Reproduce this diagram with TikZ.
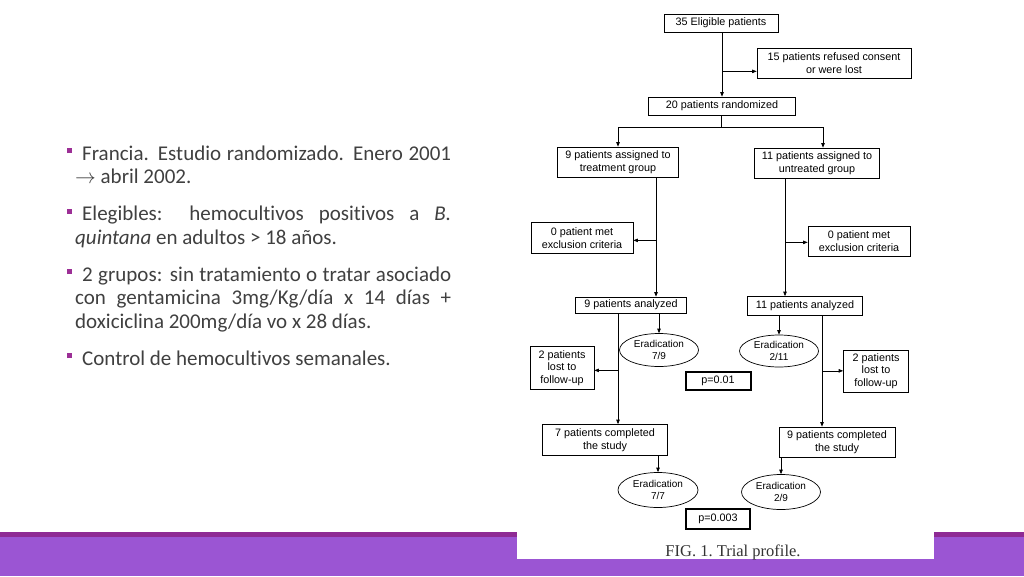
\documentclass[tikz,border=0pt]{standalone}
\usepackage{fontspec}
\setmainfont{Carlito}[Ligatures=NoCommon]
\newfontfamily\flowfont{Liberation Sans}
\newfontfamily\capfont{Liberation Serif}
\usetikzlibrary{arrows.meta,shapes.geometric,calc}
\definecolor{bandlight}{HTML}{9B55D3}
\definecolor{banddark}{HTML}{8E2A94}
\definecolor{bulletc}{HTML}{9C2F96}
\definecolor{textgrey}{HTML}{404040}
\newcommand{\bul}{\hspace*{-8pt}\textcolor{bulletc}{\rule[7pt]{5pt}{5pt}}\hspace{10pt}}
\begin{document}
\begin{tikzpicture}[x=1pt,y=-1pt,
  flow/.style={font=\flowfont\fontsize{10.8}{12.5}\selectfont},
  box/.style={flow, draw=black, line width=0.7pt, fill=white, rectangle, inner sep=0pt, align=center},
  ebox/.style={ellipse, draw=black, line width=0.7pt, fill=white, inner sep=0pt, align=center, font=\flowfont\fontsize{10}{11.5}\selectfont},
  pbox/.style={box, line width=2pt},
  conn/.style={draw=black, line width=0.7pt},
  arr/.style={conn, -{Triangle[length=4.5pt,width=3.5pt]}}
]
\useasboundingbox (0,0) rectangle (1024,576);
\fill[white] (0,0) rectangle (1024,576);
\fill[bandlight] (0,532) rectangle (1024,576);
\fill[banddark] (0,532) rectangle (1024,537);
\fill[white] (517,0) rectangle (934,559);

% left text
\node[anchor=base west, inner sep=0pt, text=textgrey, font=\fontsize{21}{23.5}\selectfont] (txt) at (75,160)
{\parbox[t]{376pt}{\parindent=0pt\parskip=13.5pt
\bul Francia. Estudio randomizado. Enero 2001\linebreak $\rightarrow$ abril 2002.\par
\bul Elegibles: hemocultivos positivos a \textit{B.}\linebreak \textit{quintana} en adultos > 18 años.\par
\bul 2 grupos: sin tratamiento o tratar asociado\linebreak con gentamicina 3mg/Kg/día x 14 días +\linebreak doxiciclina 200mg/día vo x 28 días.\par
\bul Control de hemocultivos semanales.}};

% flowchart nodes
\node[box, minimum width=114pt, minimum height=18pt] (elig) at (721,23) {35 Eligible patients};
\node[box, minimum width=154pt, minimum height=30pt] (refused) at (834,63) {15 patients refused consent\\or were lost};
\node[box, minimum width=147pt, minimum height=18pt] (rand) at (722,106) {20 patients randomized};
\node[box, minimum width=121pt, minimum height=30pt] (treat) at (618,162) {9 patients assigned to\\treatment group};
\node[box, minimum width=125pt, minimum height=30pt] (untreat) at (817,163) {11 patients assigned to\\untreated group};
\node[box, minimum width=102pt, minimum height=31pt] (excl1) at (582,238) {0 patient met\\exclusion criteria};
\node[box, minimum width=102pt, minimum height=30pt] (excl2) at (859,241) {0 patient met\\exclusion criteria};
\node[box, minimum width=111pt, minimum height=16pt] (an1) at (631,305) {9 patients analyzed};
\node[box, minimum width=115pt, minimum height=19pt] (an2) at (805,306) {11 patients analyzed};
\node[ebox, minimum width=79pt, minimum height=33pt] (er1) at (659,350) {Eradication\\7/9};
\node[ebox, minimum width=79pt, minimum height=32pt] (er2) at (779,351) {Eradication\\2/11};
\node[box, minimum width=64pt, minimum height=43pt] (lost1) at (562,368) {2 patients\\lost to\\follow-up};
\node[box, minimum width=65pt, minimum height=42pt] (lost2) at (876,371) {2 patients\\lost to\\follow-up};
\node[pbox, minimum width=65pt, minimum height=18pt] (p1) at (718,381) {p=0.01};
\node[box, minimum width=125pt, minimum height=31pt] (comp1) at (605,440) {7 patients completed\\the study};
\node[box, minimum width=116pt, minimum height=30pt] (comp2) at (837,442) {9 patients completed\\the study};
\node[ebox, minimum width=80pt, minimum height=35pt] (er3) at (658,490) {Eradication\\7/7};
\node[ebox, minimum width=79pt, minimum height=35pt] (er4) at (781,492) {Eradication\\2/9};
\node[pbox, minimum width=64pt, minimum height=20pt] (p2) at (718,519) {p=0.003};

\node[font=\capfont\fontsize{16.5}{18}\selectfont, anchor=base, inner sep=0pt, text=black!80] (cap) at (733,556) {FIG.\ 1.\ Trial profile.};

% connectors
\coordinate (b1) at ($(elig.south)+(1,39)$);
\draw[arr] (elig.south -| b1) -- (rand.north -| b1);
\draw[arr] (b1) -- (b1 -| refused.west);
\coordinate (split) at ($(rand.south)+(-1,12)$);
\draw[conn] (rand.south -| split) -- (split);
\draw[arr] (split) -| (treat.north);
\draw[arr] (split) -| ($(untreat.north)+(6,0)$);

\coordinate (t1) at ($(treat.south)+(38,0)$);
\draw[arr] (t1) -- (t1 |- an1.north);
\coordinate (b2) at ($(t1)+(0,63)$);
\draw[arr] (b2) -- (b2 -| excl1.east);
\coordinate (t2) at ($(untreat.south)+(-32,0)$);
\draw[arr] (t2) -- (t2 |- an2.north);
\coordinate (b3) at ($(t2)+(0,64)$);
\draw[arr] (b3) -- (b3 -| excl2.west);

\draw[arr] (er1.north |- an1.south) -- (er1.north);
\draw[arr] (er2.north |- an2.south) -- (er2.north);

\coordinate (t3) at ($(an1.south)+(-13,0)$);
\draw[arr] (t3) -- (t3 |- comp1.north);
\coordinate (b4) at ($(t3)+(0,57)$);
\draw[arr] (b4) -- (b4 -| lost1.east);
\coordinate (t4) at ($(an2.south)+(17,0)$);
\draw[arr] (t4) -- (t4 |- comp2.north);
\coordinate (b5) at ($(t4)+(0,55)$);
\draw[arr] (b5) -- (b5 -| lost2.west);

\draw[arr] (er3.north |- comp1.south) -- (er3.north);
\draw[arr] (er4.north |- comp2.south) -- (er4.north);
\end{tikzpicture}
\end{document}
